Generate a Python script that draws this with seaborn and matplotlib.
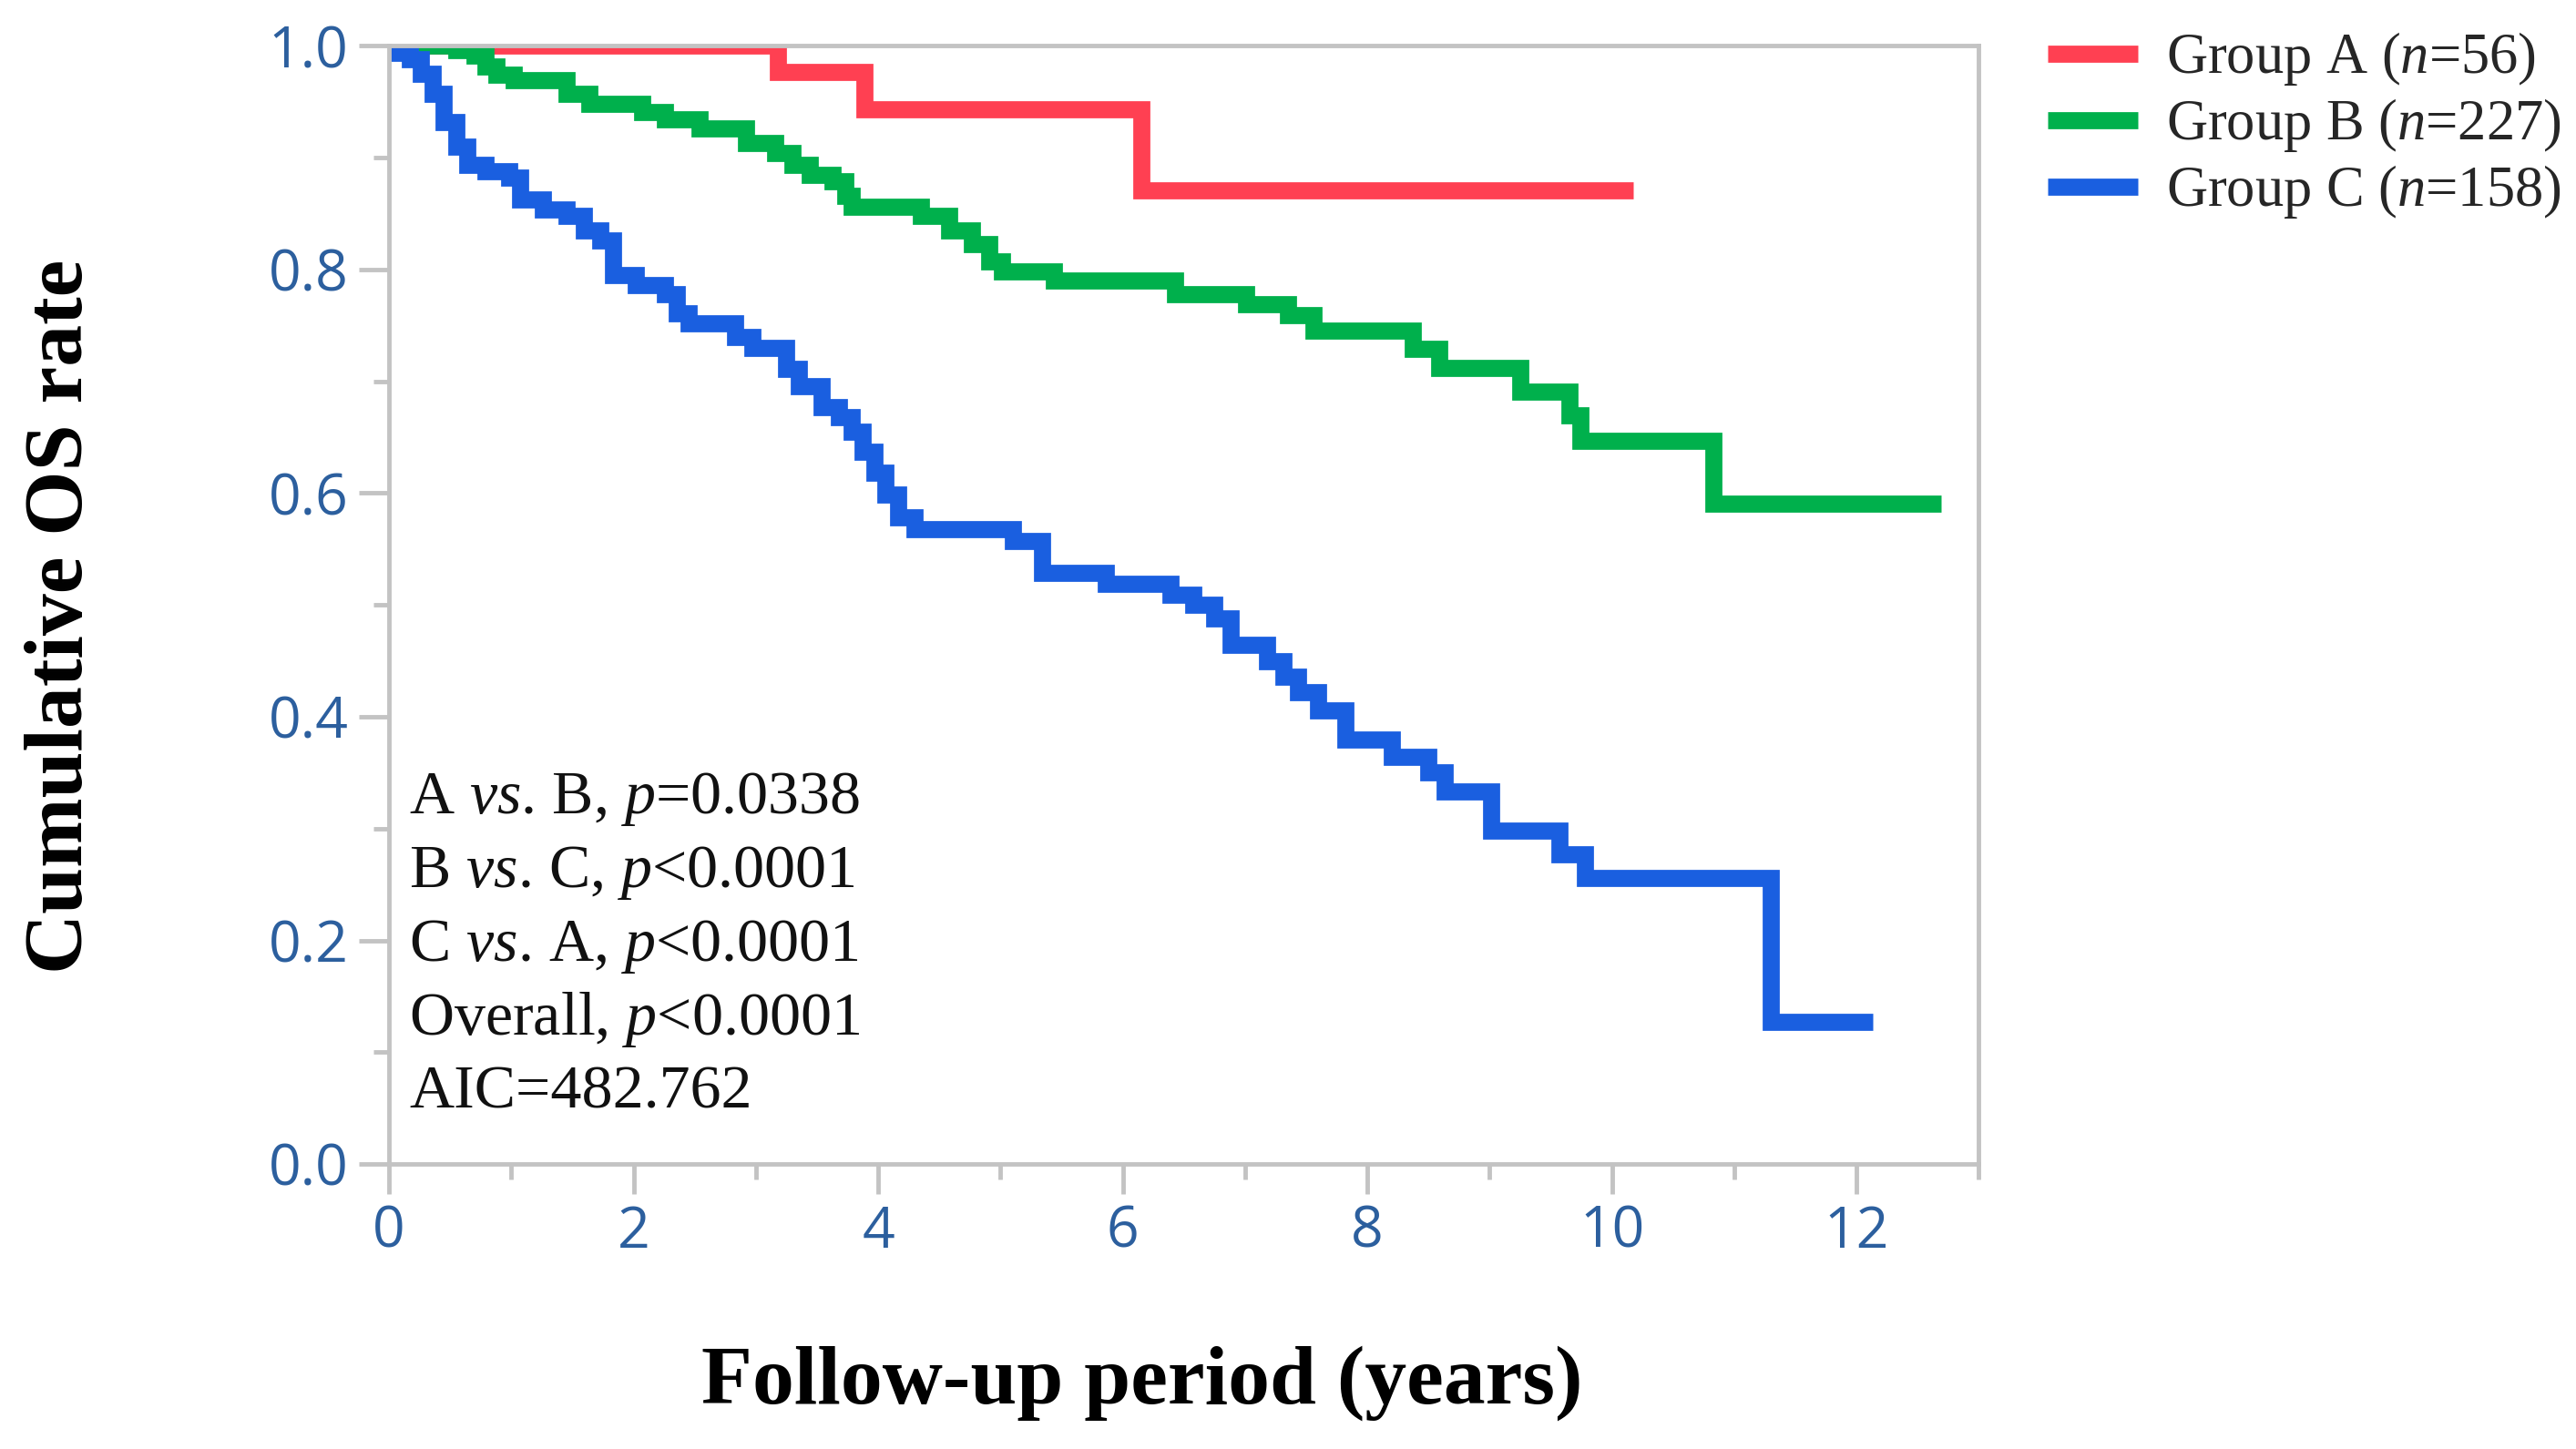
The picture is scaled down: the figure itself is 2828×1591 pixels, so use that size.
import matplotlib
matplotlib.use("Agg")
import matplotlib.pyplot as plt
from matplotlib.ticker import MultipleLocator, FormatStrFormatter
import pandas as pd
import seaborn as sns

# %% Kaplan-Meier steps (years, cumulative OS rate)
a_time = [0, 3.18, 3.89, 6.15, 10.17]
a_surv = [1.0, 0.977, 0.943, 0.871, 0.871]

b_time = [0, 0.55, 0.70, 0.79, 0.88, 1.02, 1.45, 1.64, 2.07, 2.26, 2.54, 2.92,
          3.16, 3.30, 3.44, 3.63, 3.73, 3.78, 4.35, 4.58, 4.77, 4.91, 5.01,
          5.44, 6.43, 7.01, 7.35, 7.56, 8.37, 8.59, 9.25, 9.65, 9.74, 10.83,
          12.69]
b_surv = [1.0, 0.996, 0.991, 0.982, 0.974, 0.969, 0.957, 0.948, 0.941, 0.934,
          0.926, 0.913, 0.904, 0.894, 0.885, 0.879, 0.866, 0.856, 0.848, 0.835,
          0.823, 0.807, 0.798, 0.790, 0.778, 0.769, 0.759, 0.745, 0.729, 0.712,
          0.691, 0.670, 0.647, 0.591, 0.591]

c_time = [0, 0.08, 0.17, 0.26, 0.36, 0.45, 0.55, 0.64, 0.79, 0.98, 1.07, 1.26,
          1.45, 1.59, 1.73, 1.83, 2.02, 2.26, 2.35, 2.45, 2.83, 2.97, 3.25,
          3.35, 3.54, 3.68, 3.78, 3.87, 3.97, 4.06, 4.16, 4.30, 5.10, 5.34,
          5.86, 6.39, 6.58, 6.75, 6.88, 7.18, 7.31, 7.43, 7.60, 7.82, 8.20,
          8.50, 8.63, 9.01, 9.57, 9.78, 11.30, 12.13]
c_surv = [1.0, 0.994, 0.988, 0.975, 0.957, 0.932, 0.910, 0.894, 0.888, 0.882,
          0.863, 0.854, 0.848, 0.835, 0.826, 0.795, 0.786, 0.778, 0.761, 0.752,
          0.740, 0.730, 0.711, 0.696, 0.677, 0.668, 0.655, 0.637, 0.618, 0.599,
          0.578, 0.568, 0.557, 0.529, 0.519, 0.509, 0.500, 0.488, 0.464, 0.450,
          0.436, 0.422, 0.406, 0.380, 0.364, 0.350, 0.333, 0.298, 0.277, 0.256,
          0.127, 0.127]

groups = ["A", "B", "C"]
group_labels = [r"Group A ($\mathit{n}$=56)",
                r"Group B ($\mathit{n}$=227)",
                r"Group C ($\mathit{n}$=158)"]
colors = {"A": "#ff4052", "B": "#00b04c", "C": "#1a5fe0"}

stats_lines = [r"A $\mathit{vs}$. B, $\mathit{p}$=0.0338",
               r"B $\mathit{vs}$. C, $\mathit{p}$<0.0001",
               r"C $\mathit{vs}$. A, $\mathit{p}$<0.0001",
               r"Overall, $\mathit{p}$<0.0001",
               "AIC=482.762"]

# %% long table for seaborn
df = pd.concat([
    pd.DataFrame({"time": a_time, "surv": a_surv, "group": "A"}),
    pd.DataFrame({"time": b_time, "surv": b_surv, "group": "B"}),
    pd.DataFrame({"time": c_time, "surv": c_surv, "group": "C"}),
], ignore_index=True)

# %% style
sns.set_style("white")
plt.rcParams["font.family"] = ["Open Sans", "DejaVu Sans"]
plt.rcParams["mathtext.fontset"] = "custom"
plt.rcParams["mathtext.rm"] = "Liberation Serif"
plt.rcParams["mathtext.it"] = "Liberation Serif:italic"

serif = "Liberation Serif"
grey = "#c3c3c3"

fig, ax = plt.subplots(figsize=(28.28, 15.91), dpi=100)
fig.subplots_adjust(left=0.151, right=0.7682, top=0.9683, bottom=0.1967)

sns.lineplot(data=df, x="time", y="surv", hue="group", hue_order=groups,
             palette=colors, estimator=None, drawstyle="steps-post",
             linewidth=13.5, legend=False, ax=ax,
             solid_joinstyle="miter", solid_capstyle="butt")

ax.set_xlim(0, 13)
ax.set_ylim(0, 1.0)
ax.xaxis.set_major_locator(MultipleLocator(2))
ax.xaxis.set_minor_locator(MultipleLocator(1))
ax.yaxis.set_major_locator(MultipleLocator(0.2))
ax.yaxis.set_minor_locator(MultipleLocator(0.1))
ax.yaxis.set_major_formatter(FormatStrFormatter("%.1f"))

for sp in ax.spines.values():
    sp.set_visible(True)
    sp.set_color(grey)
    sp.set_linewidth(3.5)

ax.tick_params(which="major", direction="out", length=24, width=3.5,
               color=grey, pad=8, labelsize=45, labelcolor="#2c5f9e",
               bottom=True, left=True, top=False, right=False)
ax.tick_params(which="minor", direction="out", length=12, width=3.5,
               color=grey, bottom=True, left=True, top=False, right=False)

ax.set_xlabel("Follow-up period (years)", fontsize=66, fontweight="bold",
              family=serif, color="black")
ax.set_ylabel("Cumulative OS rate", fontsize=66, fontweight="bold",
              family=serif, color="black")
ax.xaxis.set_label_coords(0.4737, -0.162)
ax.yaxis.set_label_coords(-0.182, 0.49)

# %% p-value block
base_y = 0.314
for i, line in enumerate(stats_lines):
    ax.text(0.165, base_y - i * 0.066, line, fontsize=49, family=serif,
            color="#111111", va="baseline", ha="left")

# %% legend outside on the right
leg = fig.legend(handles=ax.lines[:3], labels=group_labels,
                 loc="upper left", bbox_to_anchor=(0.795, 0.979),
                 frameon=False, borderpad=0, borderaxespad=0,
                 handlelength=1.58, handletextpad=0.5, labelspacing=0.16,
                 prop={"family": serif, "size": 45})

fig.savefig("out.png", dpi=100, facecolor="white")
